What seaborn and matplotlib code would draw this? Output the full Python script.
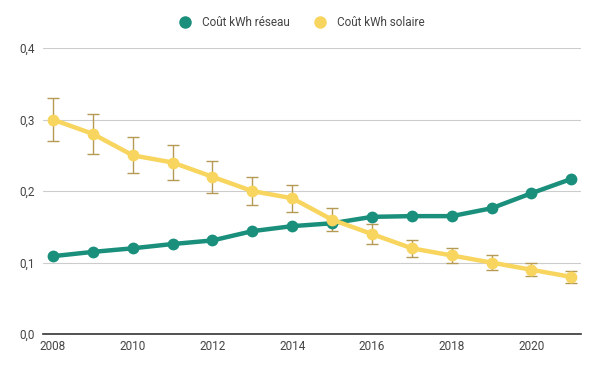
import pandas as pd
import matplotlib.pyplot as plt
import seaborn as sns
from matplotlib.lines import Line2D

# =====================================================
# DATA
# =====================================================
years = list(range(2008, 2022))
reseau = [0.109, 0.115, 0.120, 0.126, 0.131, 0.144, 0.151, 0.155,
          0.164, 0.165, 0.165, 0.176, 0.197, 0.217]
solaire = [0.30, 0.28, 0.25, 0.24, 0.22, 0.20, 0.19, 0.16,
           0.14, 0.12, 0.11, 0.10, 0.09, 0.08]
solaire_err = [0.030, 0.028, 0.025, 0.024, 0.022, 0.020, 0.019, 0.016,
               0.014, 0.012, 0.011, 0.010, 0.009, 0.008]
y_ticks = [0.0, 0.1, 0.2, 0.3, 0.4]
x_ticks = [2008, 2010, 2012, 2014, 2016, 2018, 2020]

GREEN = '#1a8f7c'
YELLOW = '#f8d55e'

sns.set_theme(style='white')
plt.rcParams['font.family'] = ['Roboto', 'DejaVu Sans']

df = pd.DataFrame({'year': years, 'reseau': reseau, 'solaire': solaire})

# =====================================================
# CHART
# =====================================================
fig = plt.figure(figsize=(5.98, 3.70), dpi=100)
ax = fig.add_axes([0.072, 0.097, 0.9, 0.773])

sns.lineplot(ax=ax, data=df, x='year', y='reseau', color=GREEN, linewidth=3.2,
             marker='o', markersize=8.5, markeredgewidth=0, zorder=3)
ax.errorbar(years, solaire, yerr=solaire_err, fmt='none', ecolor='#b49a55',
            elinewidth=1, capsize=4, capthick=1, zorder=2)
sns.lineplot(ax=ax, data=df, x='year', y='solaire', color=YELLOW, linewidth=3.2,
             marker='o', markersize=8.5, markeredgewidth=0, zorder=4)

ax.set_xlim(2007.75, 2021.25)
ax.set_ylim(0, 0.4)
ax.set_yticks(y_ticks)
ax.set_yticklabels([f"{v:.1f}".replace('.', ',') for v in y_ticks])
ax.set_xticks(x_ticks)
ax.set_xticklabels([str(x) for x in x_ticks])
ax.set(xlabel='', ylabel='')
ax.tick_params(axis='both', length=0, labelsize=8.5, labelcolor='#444444')
ax.tick_params(axis='y', pad=6)
ax.tick_params(axis='x', pad=4)
ax.grid(axis='y', color='#cccccc', linewidth=0.8)
for s in ['top', 'right', 'left']:
    ax.spines[s].set_visible(False)
ax.spines['bottom'].set_color('#333333')
ax.spines['bottom'].set_linewidth(1.2)
ax.spines['bottom'].set_zorder(5)

handles = [
    Line2D([], [], linestyle='', marker='o', markersize=9, color=GREEN, markeredgewidth=0),
    Line2D([], [], linestyle='', marker='o', markersize=9, color=YELLOW, markeredgewidth=0),
]
fig.legend(handles, ['Coût kWh réseau', 'Coût kWh solaire'], loc='center',
           bbox_to_anchor=(0.5, 0.94), ncol=2, frameon=False, fontsize=8.5,
           labelcolor='#444444', handletextpad=0.4, columnspacing=1.6)

fig.savefig('out.png', dpi=100)
plt.close()
